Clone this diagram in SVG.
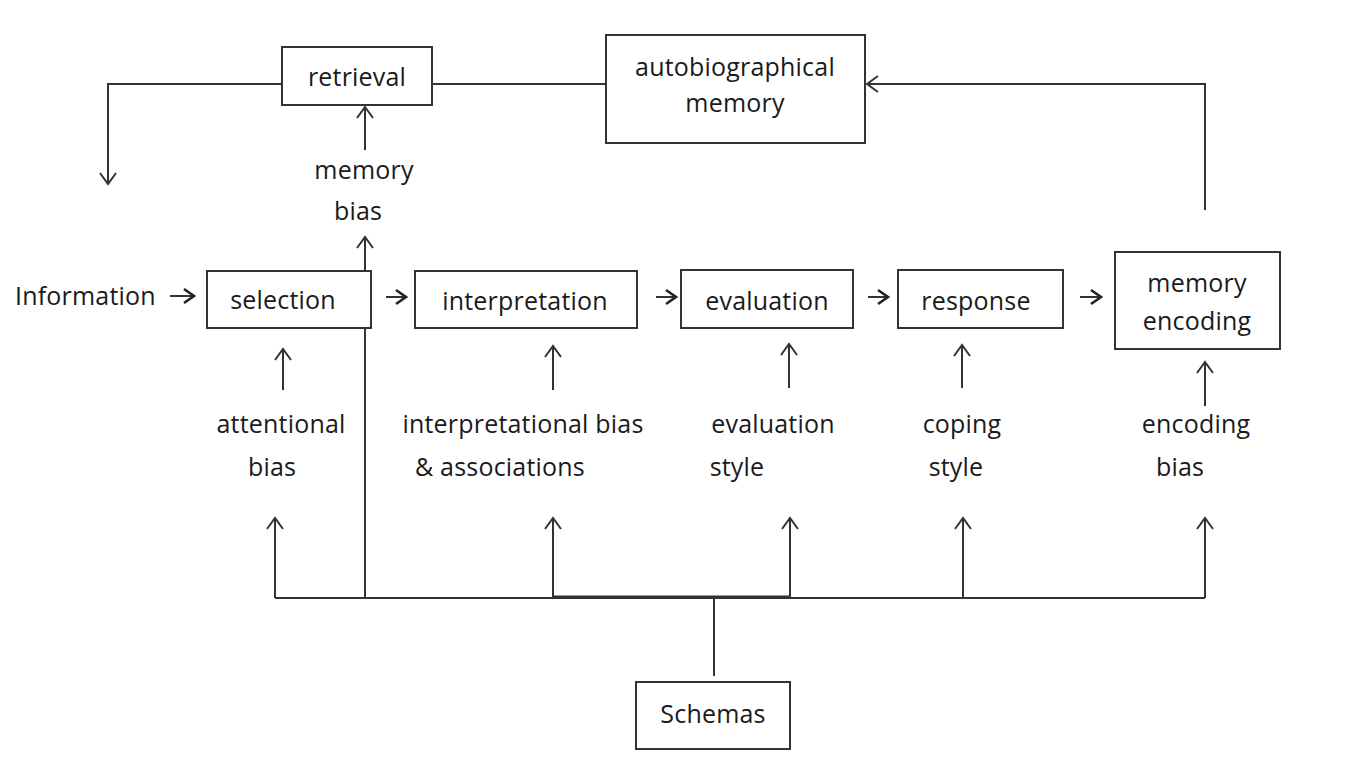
<svg xmlns="http://www.w3.org/2000/svg" width="1345" height="781" viewBox="0 0 1345 781">
<style>
.box{fill:#fff;stroke:#333;stroke-width:2}
.ln{fill:none;stroke:#333;stroke-width:2}
.t{font-family:"Open Sans","Noto Sans",sans-serif;font-size:25px;font-weight:500;fill:#1a1a1a;letter-spacing:0.2px}
.c{text-anchor:middle}
</style>
<defs>
<marker id="ah" markerUnits="userSpaceOnUse" markerWidth="16" markerHeight="20" refX="11" refY="8" orient="auto" overflow="visible">
<path d="M0,0 L11,8 L0,16" fill="none" stroke="#333" stroke-width="2"/>
</marker>
<marker id="ahs" markerUnits="userSpaceOnUse" markerWidth="16" markerHeight="20" refX="10" refY="7" orient="auto" overflow="visible">
<path d="M0,0 L10,7 L0,14" fill="none" stroke="#222" stroke-width="2.6"/>
</marker>
</defs>
<rect width="1345" height="781" fill="#fff"/>
<g id="connectors">
<path class="ln" d="M282,84 H108 V184" marker-end="url(#ah)"/>
<path class="ln" d="M432,84 H606"/>
<path class="ln" d="M1205,210 V84 H867" marker-end="url(#ah)"/>
<path class="ln" d="M365,150 V107" marker-end="url(#ah)"/>
<path class="ln" d="M170,296 H194" marker-end="url(#ahs)"/>
<path class="ln" d="M386,297 H406" marker-end="url(#ahs)"/>
<path class="ln" d="M656,297 H676" marker-end="url(#ahs)"/>
<path class="ln" d="M868,297 H888" marker-end="url(#ahs)"/>
<path class="ln" d="M1080,297 H1101" marker-end="url(#ahs)"/>
<path class="ln" d="M283,390 V349" marker-end="url(#ah)"/>
<path class="ln" d="M553,390 V346" marker-end="url(#ah)"/>
<path class="ln" d="M789,388 V344" marker-end="url(#ah)"/>
<path class="ln" d="M962,388 V345" marker-end="url(#ah)"/>
<path class="ln" d="M1205,406 V362" marker-end="url(#ah)"/>
<path class="ln" d="M275,598 H1205"/>
<path class="ln" d="M553,596.5 H790"/>
<path class="ln" d="M275,598 V518" marker-end="url(#ah)"/>
<path class="ln" d="M365,598 V237" marker-end="url(#ah)"/>
<path class="ln" d="M553,598 V518" marker-end="url(#ah)"/>
<path class="ln" d="M790,598 V518" marker-end="url(#ah)"/>
<path class="ln" d="M963,598 V518" marker-end="url(#ah)"/>
<path class="ln" d="M1205,598 V518" marker-end="url(#ah)"/>
<path class="ln" d="M714,598 V676"/>
</g>
<g id="retrieval"><rect class="box" x="282" y="47" width="150" height="58"/><text class="t c" x="357" y="86">retrieval</text></g>
<g id="autobiographical-memory"><rect class="box" x="606" y="35" width="259" height="108"/><text class="t c" x="735" y="76">autobiographical</text><text class="t c" x="735" y="112">memory</text></g>
<g id="memory-bias"><text class="t c" x="364" y="179">memory</text><text class="t c" x="358" y="220">bias</text></g>
<g id="information"><text class="t" x="15" y="305">Information</text></g>
<g id="selection"><rect class="box" x="207" y="271" width="164" height="57"/><text class="t c" x="283" y="309">selection</text></g>
<g id="interpretation"><rect class="box" x="415" y="271" width="222" height="57"/><text class="t c" x="525" y="310">interpretation</text></g>
<g id="evaluation"><rect class="box" x="681" y="270" width="172" height="58"/><text class="t c" x="767" y="310">evaluation</text></g>
<g id="response"><rect class="box" x="898" y="270" width="165" height="58"/><text class="t c" x="976" y="310">response</text></g>
<g id="memory-encoding"><rect class="box" x="1115" y="252" width="165" height="97"/><text class="t c" x="1197" y="292">memory</text><text class="t c" x="1197" y="330">encoding</text></g>
<g id="attentional-bias"><text class="t c" x="281" y="433">attentional</text><text class="t c" x="272" y="476">bias</text></g>
<g id="interpretational-bias"><text class="t c" x="523" y="433">interpretational bias</text><text class="t c" x="500" y="476">&amp; associations</text></g>
<g id="evaluation-style"><text class="t c" x="773" y="433">evaluation</text><text class="t c" x="737" y="476">style</text></g>
<g id="coping-style"><text class="t c" x="962" y="433">coping</text><text class="t c" x="956" y="476">style</text></g>
<g id="encoding-bias"><text class="t c" x="1196" y="433">encoding</text><text class="t c" x="1180" y="476">bias</text></g>
<g id="schemas"><rect class="box" x="636" y="682" width="154" height="67"/><text class="t c" x="713" y="723">Schemas</text></g>
</svg>
